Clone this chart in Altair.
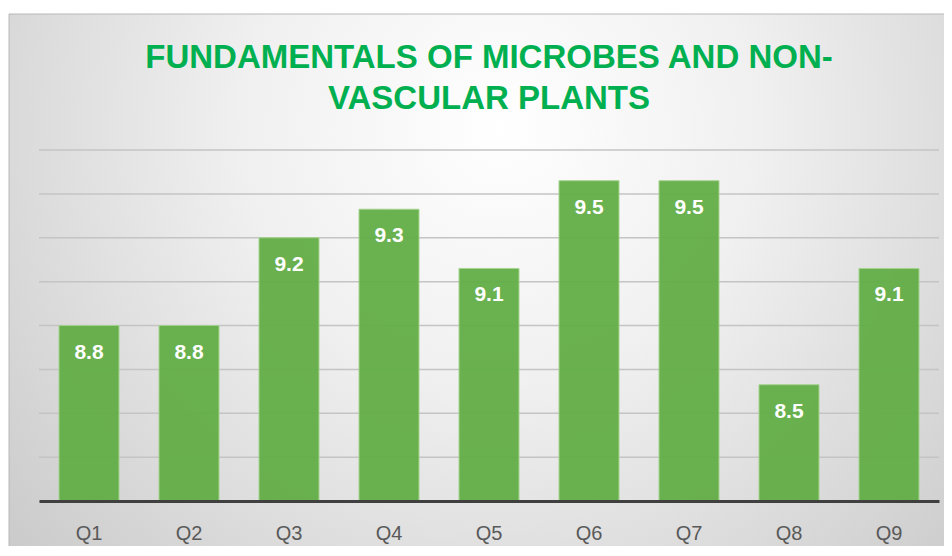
import altair as alt
import pandas as pd

categories = ["Q1", "Q2", "Q3", "Q4", "Q5", "Q6", "Q7", "Q8", "Q9"]
scores = [8.8, 8.8, 9.2, 9.33, 9.06, 9.46, 9.46, 8.53, 9.06]
grid_ticks = [8.0, 8.2, 8.4, 8.6, 8.8, 9.0, 9.2, 9.4, 9.6]
title_lines = ["FUNDAMENTALS OF MICROBES AND NON-", "VASCULAR PLANTS"]

df = pd.DataFrame({"q": categories, "score": scores})
grid_df = pd.DataFrame({"t": grid_ticks})

W, H = 900, 351
yscale = alt.Scale(domain=[8.0, 9.6], zero=False, nice=False)

bg = alt.Chart(alt.Data(values=[{}])).mark_rect(
    clip=False,
    stroke="#b8b8b8",
    strokeWidth=1,
    color=alt.Gradient(
        gradient="radial",
        x1=0.52, y1=0.32, r1=0.0,
        x2=0.52, y2=0.32, r2=0.78,
        stops=[
            alt.GradientStop(color="#ffffff", offset=0),
            alt.GradientStop(color="#f0f0f0", offset=0.35),
            alt.GradientStop(color="#c2c2c2", offset=1),
        ],
    ),
).encode(
    x=alt.value(-30), x2=alt.value(915), y=alt.value(-136), y2=alt.value(430)
)

title = alt.Chart(alt.Data(values=[{"t": "\n".join(title_lines)}])).mark_text(
    font="Liberation Sans",
    fontSize=33,
    fontWeight="bold",
    color="#00B050",
    lineBreak="\n",
    lineHeight=41,
    align="center",
    baseline="top",
).encode(
    text="t:N",
    x=alt.value(W / 2),
    y=alt.value(-108),
)

grid = alt.Chart(grid_df).mark_rule(color="#c4c4c4", strokeWidth=1.5).encode(
    y=alt.Y("t:Q", scale=yscale, axis=None),
    x=alt.value(0),
    x2=alt.value(W),
)

bars = alt.Chart(df).mark_bar(
    color="#62ad45", opacity=0.94, stroke="#a3d38b", strokeWidth=1
).encode(
    x=alt.X(
        "q:N",
        sort=categories,
        scale=alt.Scale(paddingInner=0.4, paddingOuter=0.2),
        axis=alt.Axis(
            title=None,
            labelAngle=0,
            ticks=False,
            domainColor="#404040",
            domainWidth=3,
            labelColor="#595959",
            labelFont="Liberation Sans",
            labelFontSize=20,
            labelPadding=22,
            zindex=1,
        ),
    ),
    y=alt.Y("score:Q", scale=yscale, axis=None),
    y2=alt.datum(8.0),
)

labels = alt.Chart(df).mark_text(
    color="white",
    font="Liberation Sans",
    fontSize=21,
    fontWeight="bold",
    baseline="middle",
    dy=27,
).encode(
    x=alt.X("q:N", sort=categories),
    y=alt.Y("score:Q", scale=yscale, axis=None),
    text=alt.Text("score:Q", format=".1f"),
)

chart = alt.layer(bg, title, grid, bars, labels).properties(
    width=W,
    height=H,
    autosize=alt.AutoSizeParams(type="none"),
    padding={"left": 31, "top": 142, "right": 5, "bottom": 45},
).configure_view(stroke=None).configure(background="white")

chart.save("out.html", embed_options={"renderer": "svg", "actions": False})
